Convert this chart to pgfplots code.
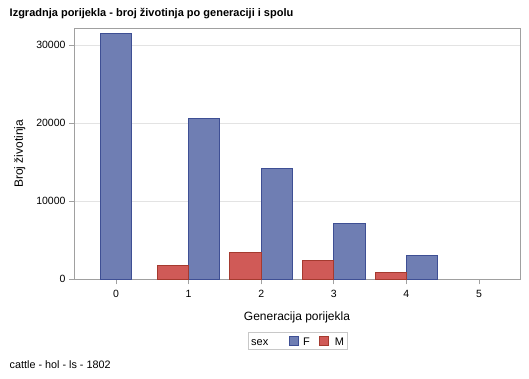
\documentclass[border=0pt]{standalone}
\usepackage{pgfplots}
\pgfplotsset{compat=1.18}
\usepackage{fontspec}
\setmainfont{Liberation Sans}
\definecolor{fcol}{HTML}{6F7EB3}
\definecolor{fline}{HTML}{3E4F94}
\definecolor{mcol}{HTML}{D05A57}
\definecolor{mline}{HTML}{A53A2F}
\definecolor{axgray}{HTML}{A0A0A0}
\definecolor{gridgray}{HTML}{E3E3E3}
\definecolor{leggray}{HTML}{C8C8C8}
\begin{document}
\begin{tikzpicture}[x=1bp,y=1bp]
\path[use as bounding box] (0,0) rectangle (529,-378);
\node[anchor=west, font=\fontsize{11bp}{13bp}\selectfont\bfseries, inner sep=0pt] at (9.5,-14) {Izgradnja porijekla - broj životinja po generaciji i spolu};
\node[anchor=west, font=\fontsize{10.8bp}{13bp}\selectfont, inner sep=0pt] at (9.5,-364.5) {cattle - hol - ls - 1802};
\begin{axis}[
  at={(74bp,-279.3bp)}, anchor=south west, scale only axis,
  width=446bp, height=251bp,
  xmin=-0.578, xmax=5.565, ymin=0, ymax=32180,
  xtick={0,1,2,3,4,5}, ytick={0,10000,20000,30000},
  scaled y ticks=false,
  /pgf/number format/assume math mode=true,
  yticklabel style={/pgf/number format/.cd, 1000 sep={}},
  xticklabel style={yshift=-2bp},
  ticklabel style={font=\fontsize{10.5bp}{12bp}\selectfont},
  label style={font=\fontsize{12bp}{14bp}\selectfont},
  xlabel={Generacija porijekla}, ylabel={Broj životinja},
  xlabel style={yshift=-8bp},
  ylabel style={yshift=4bp},
  ymajorgrids, grid style={gridgray, line width=0.8bp},
  axis line style={axgray, line width=0.8bp},
  tick style={axgray, line width=0.8bp},
  tick align=outside, major tick length=5bp,
  xtick pos=bottom, ytick pos=left,
  legend columns=-1,
  legend style={at={(0.5015,-0.2438)}, anchor=center, draw=leggray, line width=0.8bp,
    font=\fontsize{11bp}{13bp}\selectfont, inner xsep=2.8bp, inner ysep=3.6bp,
    nodes={inner sep=0pt, text height=7.9bp, text depth=0bp},
    /tikz/column 1/.style={column sep=0bp},
    /tikz/column 2/.style={column sep=20.2bp},
    /tikz/column 3/.style={column sep=4.8bp},
    /tikz/column 4/.style={column sep=9.5bp},
    /tikz/column 5/.style={column sep=5.8bp}},
  legend image code/.code={\draw[#1, line width=0.8bp] (0bp,-3.65bp) rectangle (9bp,5.35bp);},
]
\addlegendimage{empty legend}
\addlegendentry{sex}
\addplot[ybar, bar width=0.432, bar shift=0pt, fill=fcol, draw=fline, line width=0.9bp]
  coordinates {(0,31500) (1.216,20640) (2.216,14230) (3.216,7160) (4.216,3085)};
\addlegendentry{F}
\addplot[ybar, bar width=0.432, bar shift=0pt, fill=mcol, draw=mline, line width=0.9bp]
  coordinates {(0.784,1760) (1.784,3430) (2.784,2440) (3.784,900)};
\addlegendentry{M\hspace{3.3bp}}
\end{axis}
\end{tikzpicture}
\end{document}
